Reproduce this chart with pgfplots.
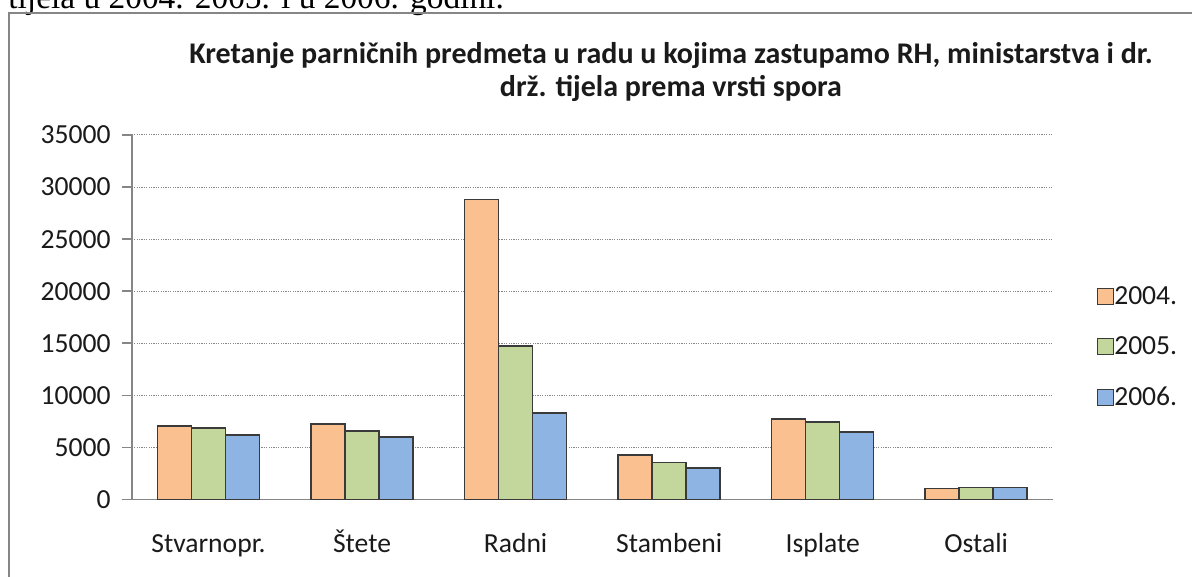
\documentclass[border=0pt]{standalone}
\usepackage{fontspec}
\setmainfont{Carlito}
\newfontfamily\timesfont{Liberation Serif}
\usepackage{pgfplots}
\pgfplotsset{compat=1.18}
\definecolor{cA}{HTML}{FAC090}
\definecolor{cB}{HTML}{C3D69B}
\definecolor{cC}{HTML}{8EB4E3}
\definecolor{barline}{HTML}{3A3A3A}
\definecolor{axgray}{HTML}{868686}
\definecolor{txt}{HTML}{1A1A1A}
\begin{document}
\begin{tikzpicture}
\useasboundingbox (0,0) rectangle (596pt,288.5pt);
\clip (0,0) rectangle (596pt,288.5pt);
\node[anchor=base west, inner sep=0pt, font=\timesfont\fontsize{16.7pt}{20pt}\selectfont] at (4pt,284.25pt) {tijela u 2004. 2005. i u 2006. godini.};
\draw[axgray, line width=0.8pt] (4.5pt,-20pt) -- (4.5pt,282pt) -- (700pt,282pt);
\node[align=center, font=\bfseries\fontsize{15pt}{16.5pt}\selectfont, text=txt] at (335.5pt,252.5pt) {Kretanje parničnih predmeta u radu u kojima zastupamo RH, ministarstva i dr.\\drž. tijela prema vrsti spora};
\begin{axis}[
  at={(65.85pt,38.75pt)}, anchor=south west,
  scale only axis, width=460.65pt, height=182.25pt,
  xmin=-0.5, xmax=5.5, ymin=0, ymax=35000,
  ybar=0pt, bar width=17pt,
  axis lines*=left,
  axis line style={draw=axgray, line width=0.8pt, -},
  xtick={0,1,2,3,4,5},
  xticklabels={Stvarnopr.,Štete,Radni,Stambeni,Isplate,Ostali},
  major x tick style={draw=none},
  extra x ticks={-0.5,0.5,1.5,2.5,3.5,4.5,5.5},
  extra x tick labels={},
  extra x tick style={major tick length=5pt, tick align=outside, tick style={draw=axgray, line width=0.8pt}},
  ytick={0,5000,...,35000},
  scaled y ticks=false,
  ytick pos=left, xtick pos=bottom,
  tick align=outside, major tick length=5pt,
  tick style={draw=axgray, line width=0.8pt},
  ymajorgrids,
  major grid style={draw=axgray, line width=0.5pt, dash pattern=on 0.6pt off 0.6pt},
  /pgf/number format/assume math mode=true,
  /pgf/number format/1000 sep={},
  tick label style={font=\fontsize{13.8pt}{15pt}\selectfont, text=txt},
  yticklabel style={xshift=-2pt},
  xticklabel style={anchor=base, yshift=-21.3pt},
  legend style={at={(1.0478,0.418)}, anchor=west, draw=none, fill=none,
    inner sep=0pt, outer sep=0pt,
    font=\fontsize{13.8pt}{15pt}\selectfont, text=txt, row sep=14.6pt,
    nodes={inner sep=0pt}},
  legend cell align=left,
  legend image code/.code={\draw[#1, line width=0.6pt, draw=barline] (0pt,-4pt) rectangle (8pt,4pt);},
  /tikz/every even column/.append style={column sep=5.5pt},
]
\addplot[fill=cA, draw=barline, line width=0.8pt] coordinates {(0,7030) (1,7230) (2,28800) (3,4250) (4,7710) (5,1040)};
\addplot[fill=cB, draw=barline, line width=0.8pt] coordinates {(0,6870) (1,6590) (2,14760) (3,3540) (4,7450) (5,1170)};
\addplot[fill=cC, draw=barline, line width=0.8pt] coordinates {(0,6170) (1,6010) (2,8320) (3,3000) (4,6490) (5,1170)};
\legend{2004.,2005.,2006.}
\end{axis}
\end{tikzpicture}
\end{document}
